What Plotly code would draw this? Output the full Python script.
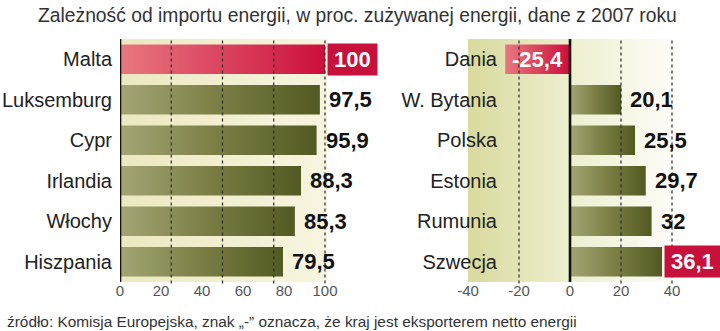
import plotly.graph_objects as go

# ---------------- data ----------------
title_text = "Zależność od importu energii, w proc. zużywanej energii, dane z 2007 roku"
source_text = "źródło: Komisja Europejska, znak „-” oznacza, że kraj jest eksporterem netto energii"

left_countries = ["Malta", "Luksemburg", "Cypr", "Irlandia", "Włochy", "Hiszpania"]
left_values = [100, 97.5, 95.9, 88.3, 85.3, 79.5]

right_countries = ["Dania", "W. Bytania", "Polska", "Estonia", "Rumunia", "Szwecja"]
right_values = [-25.4, 20.1, 25.5, 29.7, 32, 36.1]

left_ticks = [0, 20, 40, 60, 80, 100]
right_ticks = [-40, -20, 0, 20, 40]
left_grid = [25, 50, 75, 100]
right_grid = [-20, 20, 40]

# ---------------- style ----------------
W, H = 720, 331
MT, MB = 39, 49
PLOT_H = H - MT - MB
BAR_H = 0.73
OLIVE = [[0, "#a3a674"], [0.5, "#7a7e44"], [1, "#535922"]]
RED = [[0, "#e8787f"], [1, "#cc0f3c"]]
BOX_RED = "#c8103c"
FONT = "Liberation Sans"


def fmt(v):
    return f"{v:g}".replace(".", ",")


fig = go.Figure()

# backgrounds (gradients)
fig.add_trace(go.Scatter(
    x=[0, 101, 101, 0, 0], y=[-0.5, -0.5, 5.5, 5.5, -0.5],
    xaxis="x", yaxis="y", mode="lines", line=dict(width=0), fill="toself",
    fillgradient=dict(type="horizontal", colorscale=[[0, "#ebe9c0"], [1, "#f7f5e0"]]),
    hoverinfo="skip", showlegend=False))
fig.add_trace(go.Scatter(
    x=[-40, 46, 46, -40, -40], y=[-0.5, -0.5, 5.5, 5.5, -0.5],
    xaxis="x2", yaxis="y2", mode="lines", line=dict(width=0), fill="toself",
    fillgradient=dict(type="horizontal", start=-40, stop=46,
                      colorscale=[[0, "#d8da9e"], [0.47, "#eeefcf"], [0.75, "#f7f7e8"], [1, "#ffffff"]]),
    hoverinfo="skip", showlegend=False))


def add_bars(values, xa, ya):
    vmax = max(values)
    for i, v in enumerate(values):
        red = (v == vmax and xa == "x") or v < 0
        y0, y1 = i - BAR_H / 2, i + BAR_H / 2
        fig.add_trace(go.Scatter(
            x=[0, v, v, 0, 0], y=[y0, y0, y1, y1, y0],
            xaxis=xa, yaxis=ya, mode="lines", line=dict(width=0), fill="toself",
            fillgradient=dict(type="horizontal", colorscale=RED if red else OLIVE),
            hoverinfo="skip", showlegend=False))


add_bars(left_values, "x", "y")
add_bars(right_values, "x2", "y2")

shapes = []
for g in left_grid:
    shapes.append(dict(type="line", xref="x", yref="paper", x0=g, x1=g, y0=-0.006, y1=1,
                       line=dict(color="#2a2a2a", width=1.2, dash="3px,3px"), layer="above"))
for g in right_grid:
    shapes.append(dict(type="line", xref="x2", yref="paper", x0=g, x1=g, y0=-0.006, y1=1,
                       line=dict(color="#2a2a2a", width=1.2, dash="3px,3px"), layer="above"))
shapes.append(dict(type="line", xref="x", yref="paper", x0=0, x1=0, y0=0, y1=1,
                   line=dict(color="#111", width=2.6), layer="above"))
shapes.append(dict(type="line", xref="x2", yref="paper", x0=0, x1=0, y0=0, y1=1,
                   line=dict(color="#111", width=2.6), layer="above"))

annotations = []


def add_labels(values, xa, ya, highlight_max):
    vmax = max(values)
    for i, v in enumerate(values):
        t = fmt(v)
        if v < 0:
            annotations.append(dict(x=v / 2, y=i, xref=xa, yref=ya, text=t, showarrow=False,
                                    xanchor="center", yanchor="middle",
                                    font=dict(family=FONT, size=22, color="white", weight="bold")))
        elif v == vmax and highlight_max:
            tw = 12.2 * sum(1 for c in t if c.isdigit()) + 6.1 * t.count(",")
            annotations.append(dict(x=v, y=i, xref=xa, yref=ya, text=t, showarrow=False,
                                    xanchor="left", yanchor="middle", xshift=2,
                                    bgcolor=BOX_RED, borderpad=3, width=tw + 6, height=25,
                                    align="center",
                                    font=dict(family=FONT, size=22, color="white", weight="bold")))
        else:
            annotations.append(dict(x=v, y=i, xref=xa, yref=ya, text=t, showarrow=False,
                                    xanchor="left", yanchor="middle", xshift=7,
                                    font=dict(family=FONT, size=22, color="#111", weight="bold")))


add_labels(left_values, "x", "y", True)
add_labels(right_values, "x2", "y2", True)

annotations.append(dict(x=5 / W, y=(H - MB - 321) / PLOT_H, xref="paper", yref="paper",
                        text=source_text, showarrow=False, xanchor="left", yanchor="middle",
                        font=dict(family=FONT, size=15.4, color="#333")))

fig.update_layout(
    width=W, height=H,
    margin=dict(l=0, r=0, t=MT, b=MB, autoexpand=False),
    paper_bgcolor="white", plot_bgcolor="rgba(0,0,0,0)",
    title=dict(text=title_text, x=38 / W, xanchor="left", y=1 - 15 / H, yanchor="middle",
               yref="container", automargin=False,
               font=dict(family=FONT, size=19.3, color="#333")),
    xaxis=dict(domain=[120 / W, 330 / W], range=[0, 210 / 2.05], tickvals=left_ticks,
               ticktext=[str(t) for t in left_ticks], showgrid=False, zeroline=False,
               showline=False, ticks="", ticklabelstandoff=-2, anchor="y", automargin=False,
               tickfont=dict(family=FONT, size=15, color="#555")),
    yaxis=dict(domain=[0, 1], range=[5.5, -0.5], tickvals=list(range(len(left_countries))),
               ticktext=left_countries, showgrid=False, zeroline=False, showline=False,
               ticks="", ticklabelstandoff=7, anchor="x", automargin=False,
               tickfont=dict(family=FONT, size=20, color="#222")),
    xaxis2=dict(domain=[468 / W, 1], range=[-40, -40 + 252 / 2.55], tickvals=right_ticks,
                ticktext=[str(t) for t in right_ticks], showgrid=False, zeroline=False,
                showline=False, ticks="", ticklabelstandoff=-2, anchor="y2", automargin=False,
                tickfont=dict(family=FONT, size=15, color="#555")),
    yaxis2=dict(domain=[0, 1], range=[5.5, -0.5], tickvals=list(range(len(right_countries))),
                ticktext=right_countries, showgrid=False, zeroline=False, showline=False,
                ticks="", ticklabelstandoff=3, anchor="free", position=500 / W, automargin=False,
                tickfont=dict(family=FONT, size=20, color="#222")),
    shapes=shapes,
    annotations=annotations,
)

fig.write_html("out.html")
